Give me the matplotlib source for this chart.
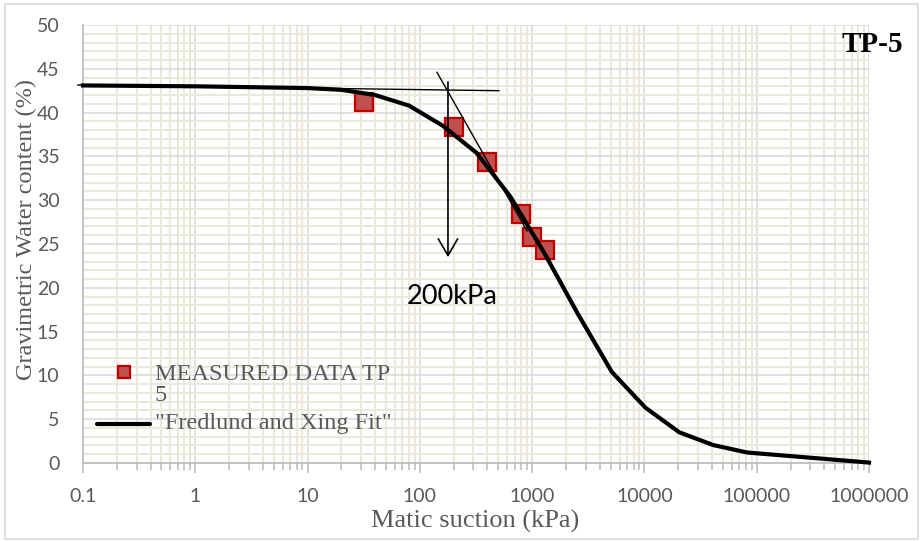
import matplotlib
matplotlib.use("Agg")
import matplotlib.pyplot as plt
from matplotlib.ticker import LogLocator, FixedLocator, NullFormatter, MultipleLocator
from matplotlib.patches import Rectangle

# ---- data ----
measured_suction = [32, 200, 400, 800, 1000, 1300]
measured_water = [41.2, 38.4, 34.4, 28.4, 25.8, 24.3]

fit_suction = [0.1, 1, 10, 20, 40, 80, 160, 320, 640, 1280, 2560, 5120,
               10240, 20480, 40960, 81920, 1000000]
fit_water = [43.1, 43.0, 42.8, 42.6, 42.0, 40.8, 38.5, 35.4, 30.4, 24.0,
             17.0, 10.4, 6.3, 3.5, 2.05, 1.2, 0.05]

# construction lines (air-entry estimate)
tangent_flat_x = [0.09, 506]
tangent_flat_y = [43.15, 42.5]
tangent_steep_x = [142, 900]
tangent_steep_y = [44.6, 26.5]
arrow_x = 178
arrow_y_start, arrow_y_end = 43.5, 23.5

x_ticks = [0.1, 1, 10, 100, 1000, 10000, 100000, 1000000]
x_ticklabels = ["0.1", "1", "10", "100", "1000", "10000", "100000", "1000000"]
y_ticks = [0, 5, 10, 15, 20, 25, 30, 35, 40, 45, 50]

GRAY_TXT = "#595959"
MAJOR_GRID = "#d9d9d9"
MINOR_GRID = "#ebe8dc"
AXIS_COL = "#bfbfbf"

fig = plt.figure(figsize=(9.23, 5.41), dpi=100)
ax = fig.add_axes([83/923, 1-463/541, (869-83)/923, (463-25)/541])

ax.set_xscale("log")
ax.set_xlim(0.1, 1000000)
ax.set_ylim(0, 50)

# grids
ax.xaxis.set_major_locator(FixedLocator(x_ticks))
ax.xaxis.set_minor_locator(LogLocator(base=10, subs=range(2, 10), numticks=50))
ax.xaxis.set_minor_formatter(NullFormatter())
ax.yaxis.set_major_locator(FixedLocator(y_ticks))
ax.yaxis.set_minor_locator(MultipleLocator(1))
ax.grid(which="minor", color=MINOR_GRID, lw=1.5, zorder=0)
ax.grid(which="major", color=MAJOR_GRID, lw=1.1, zorder=0.5)
ax.set_axisbelow(True)

ax.set_xticklabels(x_ticklabels)
for s in ["top", "right"]:
    ax.spines[s].set_visible(False)
for s in ["left", "bottom"]:
    ax.spines[s].set_color(AXIS_COL)
    ax.spines[s].set_linewidth(1.3)

ax.tick_params(axis="x", which="major", length=7, width=1.2, color=AXIS_COL,
               direction="out", pad=11, labelsize=14, labelcolor=GRAY_TXT)
ax.tick_params(axis="x", which="minor", length=5, width=1.2, color=AXIS_COL,
               direction="out")
ax.tick_params(axis="y", which="both", length=0, pad=17, labelsize=14,
               labelcolor=GRAY_TXT)
for lab in ax.get_xticklabels() + ax.get_yticklabels():
    lab.set_family("Lato")

# data
ax.plot(measured_suction, measured_water, ls="none", marker="s", ms=13,
        mfc="#c0504d", mec="#c00000", mew=1.6, zorder=3, clip_on=False)
ax.plot(fit_suction, fit_water, color="black", lw=3.0, zorder=4,
        solid_joinstyle="miter", clip_on=False)

# construction lines
ax.plot(tangent_flat_x, tangent_flat_y, color="black", lw=1.0, zorder=5, clip_on=False)
ax.plot(tangent_steep_x, tangent_steep_y, color="black", lw=1.0, zorder=5)
ax.annotate("", xy=(arrow_x, arrow_y_end), xytext=(arrow_x, arrow_y_start),
            arrowprops=dict(arrowstyle="->,head_length=1.2,head_width=0.7",
                            color="black", lw=1.2, shrinkA=0, shrinkB=0),
            zorder=6)
ax.text((452.5-83)/786, (463-297)/438, "200kPa", transform=ax.transAxes, ha="center",
        va="center", fontsize=19.5, family="Lato", color="black", zorder=6)

# title tag
fig.text(903/923, 1-44/541, "TP-5", ha="right", va="center", fontsize=21,
         fontweight="bold", family="Liberation Serif", color="black")

# axis labels
fig.text(475/923, 1-521/541, "Matic suction (kPa)", ha="center", va="center",
         fontsize=19, family="Liberation Serif", color=GRAY_TXT)
fig.text(26/923, 1-229/541, "Gravimetric Water content (%)", ha="center",
         va="center", rotation=90, fontsize=17.5, family="Liberation Serif",
         color=GRAY_TXT)

# legend (manual)
ax.plot([(124-83)/786], [(463-372)/438], transform=ax.transAxes, marker="s",
        ms=9, mfc="#c0504d", mec="#c00000", mew=1.6, ls="none", clip_on=False,
        zorder=7)
ax.text((155-83)/786, (463-385)/438, "MEASURED DATA TP\n5", transform=ax.transAxes,
        ha="left", va="center", fontsize=17.5, family="Liberation Serif",
        color=GRAY_TXT, linespacing=1.02, zorder=7)
ax.plot([(97-83)/786, (150-83)/786], [(463-424)/438]*2, transform=ax.transAxes,
        color="black", lw=3.0, clip_on=False, zorder=7, solid_capstyle="round")
ax.text((155-83)/786, (463-424)/438, "\"Fredlund and Xing Fit\"", transform=ax.transAxes,
        ha="left", va="center", fontsize=17.5, family="Liberation Serif",
        color=GRAY_TXT, zorder=7)

# chart border
fig.patches.append(Rectangle((5/923, 1-539/541), 913/923, 535/541,
                             transform=fig.transFigure, fill=False,
                             edgecolor="#d9d9d9", lw=1.2))

fig.savefig("out.png", dpi=100)
